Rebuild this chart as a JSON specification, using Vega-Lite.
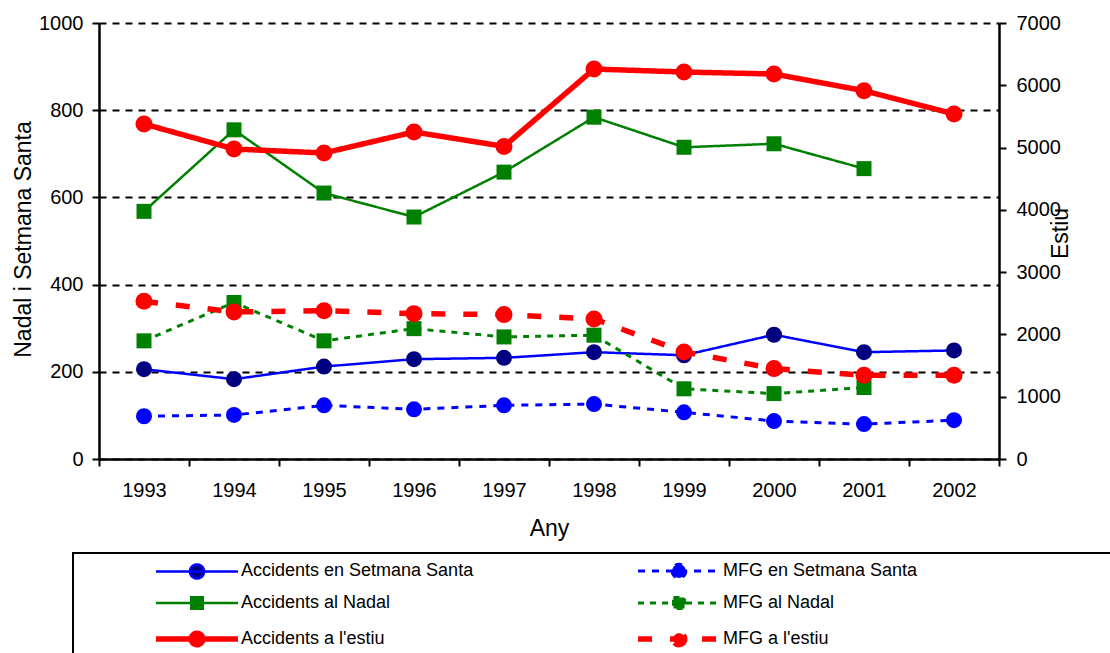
{
  "$schema": "https://vega.github.io/schema/vega-lite/v6.json",
  "width": 900,
  "height": 436,
  "autosize": {"type": "none"},
  "padding": {"left": 99, "top": 23, "right": 111, "bottom": 194},
  "background": "white",
  "config": {
    "font": "Liberation Sans",
    "view": {"stroke": null},
    "axis": {
      "labelFont": "Liberation Sans", "titleFont": "Liberation Sans",
      "labelColor": "black", "titleColor": "black",
      "domainColor": "black", "tickColor": "black",
      "domainWidth": 2.5, "tickWidth": 2, "tickSize": 7,
      "labelFontSize": 20, "titleFontSize": 23, "titleFontWeight": "normal",
      "grid": false
    }
  },
  "data": {"values": [
    {"year": 1993, "serie": "Accidents en Setmana Santa", "value": 206},
    {"year": 1994, "serie": "Accidents en Setmana Santa", "value": 183},
    {"year": 1995, "serie": "Accidents en Setmana Santa", "value": 212},
    {"year": 1996, "serie": "Accidents en Setmana Santa", "value": 229},
    {"year": 1997, "serie": "Accidents en Setmana Santa", "value": 232},
    {"year": 1998, "serie": "Accidents en Setmana Santa", "value": 245},
    {"year": 1999, "serie": "Accidents en Setmana Santa", "value": 238},
    {"year": 2000, "serie": "Accidents en Setmana Santa", "value": 285},
    {"year": 2001, "serie": "Accidents en Setmana Santa", "value": 245},
    {"year": 2002, "serie": "Accidents en Setmana Santa", "value": 249},
    {"year": 1993, "serie": "MFG en Setmana Santa", "value": 98},
    {"year": 1994, "serie": "MFG en Setmana Santa", "value": 101},
    {"year": 1995, "serie": "MFG en Setmana Santa", "value": 123},
    {"year": 1996, "serie": "MFG en Setmana Santa", "value": 114},
    {"year": 1997, "serie": "MFG en Setmana Santa", "value": 123},
    {"year": 1998, "serie": "MFG en Setmana Santa", "value": 126},
    {"year": 1999, "serie": "MFG en Setmana Santa", "value": 107},
    {"year": 2000, "serie": "MFG en Setmana Santa", "value": 87},
    {"year": 2001, "serie": "MFG en Setmana Santa", "value": 80},
    {"year": 2002, "serie": "MFG en Setmana Santa", "value": 89},
    {"year": 1993, "serie": "Accidents al Nadal", "value": 568},
    {"year": 1994, "serie": "Accidents al Nadal", "value": 755},
    {"year": 1995, "serie": "Accidents al Nadal", "value": 610},
    {"year": 1996, "serie": "Accidents al Nadal", "value": 555},
    {"year": 1997, "serie": "Accidents al Nadal", "value": 658},
    {"year": 1998, "serie": "Accidents al Nadal", "value": 784},
    {"year": 1999, "serie": "Accidents al Nadal", "value": 715},
    {"year": 2000, "serie": "Accidents al Nadal", "value": 723},
    {"year": 2001, "serie": "Accidents al Nadal", "value": 666},
    {"year": 1993, "serie": "MFG al Nadal", "value": 271},
    {"year": 1994, "serie": "MFG al Nadal", "value": 359},
    {"year": 1995, "serie": "MFG al Nadal", "value": 271},
    {"year": 1996, "serie": "MFG al Nadal", "value": 299},
    {"year": 1997, "serie": "MFG al Nadal", "value": 280},
    {"year": 1998, "serie": "MFG al Nadal", "value": 284},
    {"year": 1999, "serie": "MFG al Nadal", "value": 161},
    {"year": 2000, "serie": "MFG al Nadal", "value": 150},
    {"year": 2001, "serie": "MFG al Nadal", "value": 164},
    {"year": 1993, "serie": "Accidents a l'estiu", "value": 5379},
    {"year": 1994, "serie": "Accidents a l'estiu", "value": 4977},
    {"year": 1995, "serie": "Accidents a l'estiu", "value": 4913},
    {"year": 1996, "serie": "Accidents a l'estiu", "value": 5250},
    {"year": 1997, "serie": "Accidents a l'estiu", "value": 5019},
    {"year": 1998, "serie": "Accidents a l'estiu", "value": 6261},
    {"year": 1999, "serie": "Accidents a l'estiu", "value": 6213},
    {"year": 2000, "serie": "Accidents a l'estiu", "value": 6181},
    {"year": 2001, "serie": "Accidents a l'estiu", "value": 5913},
    {"year": 2002, "serie": "Accidents a l'estiu", "value": 5539},
    {"year": 1993, "serie": "MFG a l'estiu", "value": 2531},
    {"year": 1994, "serie": "MFG a l'estiu", "value": 2361},
    {"year": 1995, "serie": "MFG a l'estiu", "value": 2382},
    {"year": 1996, "serie": "MFG a l'estiu", "value": 2334},
    {"year": 1997, "serie": "MFG a l'estiu", "value": 2318},
    {"year": 1998, "serie": "MFG a l'estiu", "value": 2249},
    {"year": 1999, "serie": "MFG a l'estiu", "value": 1719},
    {"year": 2000, "serie": "MFG a l'estiu", "value": 1451},
    {"year": 2001, "serie": "MFG a l'estiu", "value": 1343},
    {"year": 2002, "serie": "MFG a l'estiu", "value": 1343}
  ]},
  "encoding": {
    "x": {
      "field": "year", "type": "ordinal", "bandPosition": 0.5,
      "scale": {"type": "band", "paddingInner": 0, "paddingOuter": 0},
      "axis": {"title": "Any", "tickBand": "extent", "labelAngle": 0, "labelPadding": 14,
               "titleY": 76, "titleBaseline": "alphabetic"}
    }
  },
  "layer": [
    {
      "mark": {"type": "point", "filled": true, "opacity": 0},
      "encoding": {
        "fill": {"field": "serie", "type": "nominal",
          "scale": {"domain": ["Accidents en Setmana Santa", "MFG en Setmana Santa", "Accidents al Nadal", "MFG al Nadal", "Accidents a l'estiu", "MFG a l'estiu", "pad0", "pad"],
                    "range": ["#000080", "#0000FF", "#008000", "#008000", "#FF0000", "#FF0000", "#FFFFFF", "#FFFFFF"]},
          "legend": {"orient": "none", "legendX": -26, "legendY": 530, "direction": "horizontal", "columns": 2,
                     "columnPadding": 153, "rowPadding": 7, "symbolSize": 144, "symbolOpacity": 1, "symbolOffset": 32,
                     "labelFont": "Liberation Sans", "labelFontSize": 18, "labelColor": "black", "labelLimit": 1000, "labelOffset": 35,
                     "labelExpr": "datum.label == 'pad' ? 'MMMMMMMMMMMMMMMMMMMMMMMMMM' : (datum.label == 'pad0' ? '' : datum.label)",
                     "padding": 9, "strokeColor": "black",
                     "title": "\u00a0", "titleOrient": "left", "titlePadding": 74, "titleFontSize": 1,
                     "encode": {"legend": {"update": {"strokeWidth": {"value": 2}}},
                                "symbols": {"update": {"fill": {"scale": "fill", "field": "value"}}},
                                "labels": {"update": {"opacity": {"signal": "datum.value == 'pad' ? 0 : 1"}}}}}},
        "stroke": {"field": "serie", "type": "nominal",
          "scale": {"domain": ["Accidents en Setmana Santa", "MFG en Setmana Santa", "Accidents al Nadal", "MFG al Nadal", "Accidents a l'estiu", "MFG a l'estiu", "pad0", "pad"],
                    "range": ["#0000FF", "#0000FF", "#008000", "#008000", "#FF0000", "#FF0000", "#FFFFFF", "#FFFFFF"]},
          "legend": {"orient": "none", "legendX": -26, "legendY": 530, "direction": "horizontal", "columns": 2,
                     "columnPadding": 153, "rowPadding": 7, "symbolSize": 144, "symbolOpacity": 1, "symbolOffset": 32,
                     "labelFont": "Liberation Sans", "labelFontSize": 18, "labelColor": "black", "labelLimit": 1000, "labelOffset": 35,
                     "labelExpr": "datum.label == 'pad' ? 'MMMMMMMMMMMMMMMMMMMMMMMMMM' : (datum.label == 'pad0' ? '' : datum.label)",
                     "padding": 9, "strokeColor": "black",
                     "title": "\u00a0", "titleOrient": "left", "titlePadding": 74, "titleFontSize": 1,
                     "encode": {"legend": {"update": {"strokeWidth": {"value": 2}}},
                                "symbols": {"update": {"fill": {"scale": "fill", "field": "value"}}},
                                "labels": {"update": {"opacity": {"signal": "datum.value == 'pad' ? 0 : 1"}}}}}},
        "strokeWidth": {"field": "serie", "type": "ordinal",
          "scale": {"type": "ordinal", "domain": ["Accidents en Setmana Santa", "MFG en Setmana Santa", "Accidents al Nadal", "MFG al Nadal", "Accidents a l'estiu", "MFG a l'estiu", "pad0", "pad"],
                    "range": [2.5, 3, 2.5, 3, 5.5, 5.5, 0, 0]},
          "legend": {"orient": "none", "legendX": -26, "legendY": 530, "direction": "horizontal", "title": "\u00a0"}},
        "strokeDash": {"field": "serie", "type": "nominal",
          "scale": {"domain": ["Accidents en Setmana Santa", "MFG en Setmana Santa", "Accidents al Nadal", "MFG al Nadal", "Accidents a l'estiu", "MFG a l'estiu", "pad0", "pad"],
                    "range": [[1, 0], [7, 7], [1, 0], [6, 6], [1, 0], [14, 18], [1, 0], [1, 0]]},
          "legend": {"orient": "none", "legendX": -26, "legendY": 530, "direction": "horizontal", "title": "\u00a0"}},
        "shape": {"field": "serie", "type": "nominal",
          "scale": {"domain": ["Accidents en Setmana Santa", "MFG en Setmana Santa", "Accidents al Nadal", "MFG al Nadal", "Accidents a l'estiu", "MFG a l'estiu", "pad0", "pad"],
                    "range": [
                      "M-6.833,0L6.833,0M1.175,0A1.175,1.175,0,1,1,-1.175,0A1.175,1.175,0,1,1,1.175,0Z",
                      "M-6.833,0L6.833,0M1.14,0A1.14,1.14,0,1,1,-1.14,0A1.14,1.14,0,1,1,1.14,0Z",
                      "M-6.833,0L6.833,0M-0.96,-0.96L0.96,-0.96L0.96,0.96L-0.96,0.96Z",
                      "M-6.833,0L6.833,0M-0.92,-0.92L0.92,-0.92L0.92,0.92L-0.92,0.92Z",
                      "M-6.833,0L6.833,0M0.96,0A0.96,0.96,0,1,1,-0.96,0A0.96,0.96,0,1,1,0.96,0Z",
                      "M-6.833,0L6.833,0M0.96,0A0.96,0.96,0,1,1,-0.96,0A0.96,0.96,0,1,1,0.96,0Z",
                      "M0,0",
                      "M0,0"
                    ]},
          "legend": {"orient": "none", "legendX": -26, "legendY": 530, "direction": "horizontal", "title": "\u00a0"}}
      }
    },
    {
      "transform": [{"filter": {"field": "serie", "oneOf": ["Accidents en Setmana Santa", "MFG en Setmana Santa", "Accidents al Nadal", "MFG al Nadal"]}}],
      "encoding": {
        "y": {
          "field": "value", "type": "quantitative",
          "scale": {"domain": [0, 1000], "nice": false},
          "axis": {"title": "Nadal i Setmana Santa", "orient": "left", "values": [0, 200, 400, 600, 800, 1000], "format": "d",
                   "grid": true, "gridColor": "black", "gridDash": [7, 6], "gridWidth": 2, "gridOpacity": 1,
                   "labelPadding": 9, "titleX": -76, "titleY": 216, "titleAngle": -90, "titleAlign": "center", "titleBaseline": "middle"}
        }
      },
      "layer": [
        {
          "mark": {"type": "line"},
          "encoding": {
            "stroke": {"field": "serie", "type": "nominal", "legend": null,
              "scale": {"domain": ["Accidents en Setmana Santa", "MFG en Setmana Santa", "Accidents al Nadal", "MFG al Nadal", "Accidents a l'estiu", "MFG a l'estiu", "pad0", "pad"],
                        "range": ["#0000FF", "#0000FF", "#008000", "#008000", "#FF0000", "#FF0000", "#FFFFFF", "#FFFFFF"]}},
            "strokeWidth": {"field": "serie", "type": "ordinal", "legend": null,
              "scale": {"type": "ordinal", "domain": ["Accidents en Setmana Santa", "MFG en Setmana Santa", "Accidents al Nadal", "MFG al Nadal", "Accidents a l'estiu", "MFG a l'estiu", "pad0", "pad"],
                        "range": [2.5, 3, 2.5, 3, 5.5, 5.5, 0, 0]}},
            "strokeDash": {"field": "serie", "type": "nominal", "legend": null,
              "scale": {"domain": ["Accidents en Setmana Santa", "MFG en Setmana Santa", "Accidents al Nadal", "MFG al Nadal", "Accidents a l'estiu", "MFG a l'estiu", "pad0", "pad"],
                        "range": [[1, 0], [7, 7], [1, 0], [6, 6], [1, 0], [14, 18], [1, 0], [1, 0]]}}
          }
        },
        {
          "transform": [{"filter": {"field": "serie", "oneOf": ["Accidents en Setmana Santa", "MFG en Setmana Santa"]}}],
          "mark": {"type": "point", "shape": "circle", "filled": true, "size": 256, "opacity": 1},
          "encoding": {
            "fill": {"field": "serie", "type": "nominal", "legend": null,
              "scale": {"domain": ["Accidents en Setmana Santa", "MFG en Setmana Santa", "Accidents al Nadal", "MFG al Nadal", "Accidents a l'estiu", "MFG a l'estiu", "pad0", "pad"],
                        "range": ["#000080", "#0000FF", "#008000", "#008000", "#FF0000", "#FF0000", "#FFFFFF", "#FFFFFF"]}}
          }
        },
        {
          "transform": [{"filter": {"field": "serie", "oneOf": ["Accidents al Nadal", "MFG al Nadal"]}}],
          "mark": {"type": "point", "shape": "square", "filled": true, "size": 225, "opacity": 1},
          "encoding": {
            "fill": {"field": "serie", "type": "nominal", "legend": null,
              "scale": {"domain": ["Accidents en Setmana Santa", "MFG en Setmana Santa", "Accidents al Nadal", "MFG al Nadal", "Accidents a l'estiu", "MFG a l'estiu", "pad0", "pad"],
                        "range": ["#000080", "#0000FF", "#008000", "#008000", "#FF0000", "#FF0000", "#FFFFFF", "#FFFFFF"]}}
          }
        }
      ]
    },
    {
      "transform": [{"filter": {"field": "serie", "oneOf": ["Accidents a l'estiu", "MFG a l'estiu"]}}],
      "encoding": {
        "y": {
          "field": "value", "type": "quantitative",
          "scale": {"domain": [0, 7000], "nice": false},
          "axis": {"title": "Estiu", "orient": "right", "values": [0, 1000, 2000, 3000, 4000, 5000, 6000, 7000], "format": "d",
                   "labelPadding": 10, "titleX": 61, "titleY": 210, "titleAngle": -90, "titleAlign": "center", "titleBaseline": "middle"}
        }
      },
      "layer": [
        {
          "mark": {"type": "line"},
          "encoding": {
            "stroke": {"field": "serie", "type": "nominal", "legend": null,
              "scale": {"domain": ["Accidents en Setmana Santa", "MFG en Setmana Santa", "Accidents al Nadal", "MFG al Nadal", "Accidents a l'estiu", "MFG a l'estiu", "pad0", "pad"],
                        "range": ["#0000FF", "#0000FF", "#008000", "#008000", "#FF0000", "#FF0000", "#FFFFFF", "#FFFFFF"]}},
            "strokeWidth": {"field": "serie", "type": "ordinal", "legend": null,
              "scale": {"type": "ordinal", "domain": ["Accidents en Setmana Santa", "MFG en Setmana Santa", "Accidents al Nadal", "MFG al Nadal", "Accidents a l'estiu", "MFG a l'estiu", "pad0", "pad"],
                        "range": [2.5, 3, 2.5, 3, 5.5, 5.5, 0, 0]}},
            "strokeDash": {"field": "serie", "type": "nominal", "legend": null,
              "scale": {"domain": ["Accidents en Setmana Santa", "MFG en Setmana Santa", "Accidents al Nadal", "MFG al Nadal", "Accidents a l'estiu", "MFG a l'estiu", "pad0", "pad"],
                        "range": [[1, 0], [7, 7], [1, 0], [6, 6], [1, 0], [14, 18], [1, 0], [1, 0]]}}
          }
        },
        {
          "mark": {"type": "point", "shape": "circle", "filled": true, "size": 289, "opacity": 1},
          "encoding": {
            "fill": {"field": "serie", "type": "nominal", "legend": null,
              "scale": {"domain": ["Accidents en Setmana Santa", "MFG en Setmana Santa", "Accidents al Nadal", "MFG al Nadal", "Accidents a l'estiu", "MFG a l'estiu", "pad0", "pad"],
                        "range": ["#000080", "#0000FF", "#008000", "#008000", "#FF0000", "#FF0000", "#FFFFFF", "#FFFFFF"]}}
          }
        }
      ]
    }
  ],
  "resolve": {"scale": {"y": "independent"}, "axis": {"y": "independent"}}
}
